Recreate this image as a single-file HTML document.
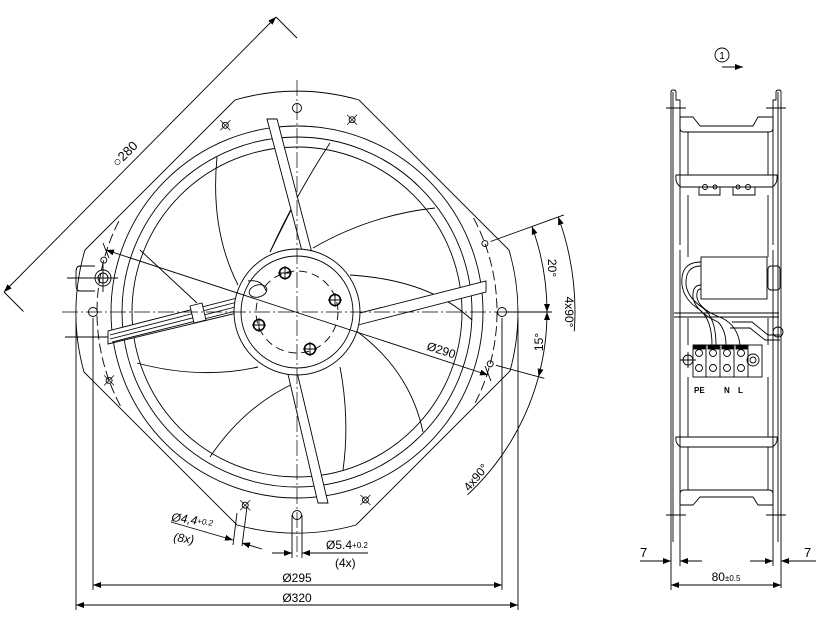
<!DOCTYPE html>
<html><head><meta charset="utf-8"><style>
html,body{margin:0;padding:0;background:#fff;width:816px;height:624px;overflow:hidden}
svg{display:block}
text{font-family:"Liberation Sans",sans-serif;fill:#000}
</style></head><body>
<svg width="816" height="624" viewBox="0 0 816 624" xmlns="http://www.w3.org/2000/svg">
<defs>
<marker id="a" viewBox="0 0 8 6" refX="8" refY="3" markerWidth="8" markerHeight="6" markerUnits="userSpaceOnUse" orient="auto-start-reverse"><path d="M0,0 L8,3 L0,6z" fill="#000"/></marker>
</defs>
<g fill="none" stroke="#000" stroke-width="0.9">
<!-- housing -->
<path d="M235,100 A221,221 0 0 1 359,100 L509,250 A221,221 0 0 1 510,371 L356,525 A221,221 0 0 1 237,525 L84,372 A221,221 0 0 1 85,250 Z"/>
<!-- 280 dim -->
<path d="M297,38 L276,17 M23.5,311.5 L4,292"/>
<path d="M4,292 L276,17" marker-start="url(#a)" marker-end="url(#a)"/>
<!-- blades -->
<path d="M217,157 Q210,230 238,285"/>
<path d="M330,143 Q296,195 270,252"/>
<path d="M292,208 L270,252"/>
<path d="M435,208 Q370,215 313,248"/>
<path d="M350,275 Q430,280 472,320"/>
<path d="M423,432 Q410,370 355,330"/>
<path d="M340,367 Q350,420 343,470"/>
<path d="M210,457 Q245,405 297,382"/>
<path d="M137,363 Q200,380 258,367"/>
<path d="M140,250 L197,303"/>
<!-- rings -->
<circle cx="297" cy="312" r="186"/>
<circle cx="297" cy="312" r="175"/>
<circle cx="297" cy="312" r="165"/>
<!-- dashed hole circle arcs -->
<path d="M473.6,218.1 A200,200 0 0 1 473.6,405.9" stroke-dasharray="10 4"/>
<path d="M120.4,405.9 A200,200 0 0 1 120.4,218.1" stroke-dasharray="10 4"/>
<!-- spokes -->
<g fill="#fff">
<polygon points="267,119 277,119 312,253 302,251"/>
<polygon points="486,281 486,292 358,325 356,314"/>
<polygon points="287,370 297,372 328,503 318,503"/>
<polygon points="108,331 108,344 237,313 245,296"/>
</g>
<!-- cable -->
<path d="M110,335 L249,299 M110,339 L251,303 M112,342 L240,310"/>
<polygon points="190,306 202,303 206,320 194,323" fill="#fff"/>
<!-- hub -->
<circle cx="297" cy="312" r="63" fill="#fff"/>
<circle cx="297" cy="312" r="56"/>
<circle cx="297" cy="312" r="41" stroke-dasharray="8 5"/>
<ellipse cx="258" cy="291" rx="9" ry="6" transform="rotate(-15 258 291)" fill="#fff"/>
<path d="M248,281 Q262,279 266,291"/>
<!-- screws -->
<g stroke-width="1.6">
<circle cx="285" cy="273" r="5.5"/><circle cx="335" cy="300" r="5.5"/><circle cx="259" cy="325" r="5.5"/><circle cx="310" cy="349" r="5.5"/>
</g>
<path d="M278,273h14M285,266v14 M328,300h14M335,293v14 M252,325h14M259,318v14 M303,349h14M310,342v14"/>
<!-- center lines -->
<path d="M62,312 H552 M297,80 V557" stroke-width="0.7" stroke-dasharray="16 3 2 3"/>
<!-- 4.4 holes -->
<g>
<circle cx="484.9" cy="243.6" r="3"/><circle cx="490.2" cy="363.8" r="3"/><circle cx="365.4" cy="499.9" r="3"/><circle cx="245.2" cy="505.2" r="3"/>
<circle cx="109.1" cy="380.4" r="3"/><circle cx="103.8" cy="260.2" r="3"/><circle cx="225.3" cy="125.3" r="3"/><circle cx="352.1" cy="119.7" r="3"/>
</g>
<path stroke-width="0.7" d="M360.4,494.9l10,10m0,-10l-10,10 M220.3,120.3l10,10m0,-10l-10,10 M347.1,114.7l10,10m0,-10l-10,10 M104.1,375.4l10,10m0,-10l-10,10 M240.2,500.2l10,10m0,-10l-10,10"/>
<!-- 5.4 holes -->
<circle cx="297" cy="108" r="4.5"/><circle cx="502" cy="312" r="4.5"/><circle cx="297" cy="515" r="4.5"/><circle cx="93" cy="312" r="4.5"/>
<!-- cable entry -->
<circle cx="103" cy="278" r="8"/><circle cx="103" cy="278" r="5"/>
<path d="M95,266 H80 Q76,266 76,272 V285 Q76,291 80,291 H95 M67,278 H118 M103,264 V292 M65,337 H108"/>
<!-- 290 dim -->
<path d="M106,250 L488,375" marker-start="url(#a)" marker-end="url(#a)"/>
<path d="M103,243 L109,258 M485,366 L491,381"/>
<!-- angle dims -->
<path d="M490.6,241.5 L563.9,214.9 M496,365.3 L544.3,378.3 M507,312 H552"/>
<path d="M547,312 A250,250 0 0 0 531.9,226.5" marker-start="url(#a)" marker-end="url(#a)"/>
<path d="M547,312 A250,250 0 0 1 538.5,376.7" marker-start="url(#a)" marker-end="url(#a)"/>
<path d="M574.3,331.4 A278,278 0 0 0 558.2,216.9" marker-end="url(#a)"/>
<path d="M538.5,376.7 A250,250 0 0 1 467.5,494.8"/>
<!-- bottom dims -->
<path d="M93,318 V590 M502,318 V590 M76,318 V610 M518,318 V610"/>
<path d="M93,585 H502" marker-start="url(#a)" marker-end="url(#a)"/>
<path d="M76,605 H518" marker-start="url(#a)" marker-end="url(#a)"/>
<path d="M292,515 V558 M302,515 V558"/>
<path d="M272,553 H292" marker-end="url(#a)"/>
<path d="M368,553 H302" marker-end="url(#a)"/>
<path d="M237,513 L233,545 M247,507 L242,546"/>
<path d="M171,522 L233,540" marker-end="url(#a)"/>
<path d="M262,549 L242,543" marker-end="url(#a)"/>

<!-- SIDE VIEW -->
<path d="M671,92 Q671,90 673,90 Q676,90 676,92 V100 L680,100 V245"/>
<path d="M671,92 V542 M673,92 V542"/>
<path d="M781,92 Q781,90 779,90 Q776,90 776,92 V100 L773,100 V245"/>
<path d="M781,92 V542 M778,92 V542"/>
<path d="M666,108 H686 M766,108 H786 M666,515 H686 M766,515 H786"/>
<path d="M680,117 H693 L700,126 H753 L758,117 H773 M680,117 V128 Q680,132 684,132 H769 Q773,132 773,128 V117"/>
<path d="M688,132 V175 M768,132 V175"/>
<path d="M676,175 H777 Q778,184 772,187 H681 Q675,184 676,175 Z"/>
<path d="M699,187 V195 H720 V187 M733,187 V195 H755 V187"/>
<circle cx="705" cy="187" r="2.5"/><circle cx="715" cy="187" r="2"/><circle cx="738" cy="187" r="2"/><circle cx="748" cy="187" r="2.5"/>
<path d="M688,195 V257 M768,195 V257 M680,250 V545 M773,250 V545"/>
<rect x="701" y="257" width="66" height="42"/>
<rect x="768" y="266" width="12" height="24" rx="3"/>
<path d="M701,262 Q680,262 682,285 Q684,300 700,310 Q712,320 712,345 M701,266 Q685,266 686,285 Q688,298 703,308 Q716,318 716,345 M701,285 Q692,285 693,298 Q696,312 718,322 Q726,330 726,345 M701,289 Q696,289 697,298 Q700,310 722,318 Q738,326 740,345"/>
<path d="M674,313 H779 M674,317 H779"/>
<path d="M688,318 V345 M768,318 V345"/>
<path d="M732,322 H752 L768,335 H780 M730,328 H750 L765,340 H780"/>
<circle cx="778" cy="332" r="5"/>
<rect x="693" y="345" width="69" height="32"/>
<g fill="#000"><rect x="694" y="345" width="11" height="4"/><rect x="708" y="345" width="11" height="4"/><rect x="722" y="345" width="11" height="4"/><rect x="736" y="345" width="11" height="4"/></g>
<path d="M706,345 V377 M720,345 V377 M734,345 V377 M748,345 V377"/>
<circle cx="699" cy="353" r="3.5"/><circle cx="713" cy="353" r="3.5"/><circle cx="727" cy="353" r="3.5"/><circle cx="741" cy="353" r="3.5"/>
<circle cx="699" cy="368" r="3.5"/><circle cx="713" cy="368" r="3.5"/><circle cx="727" cy="368" r="3.5"/><circle cx="741" cy="368" r="3.5"/>
<circle cx="753" cy="360" r="6"/><circle cx="753" cy="360" r="3"/>
<circle cx="688" cy="360" r="5"/><path d="M680,360 H696 M688,352 V368"/>
<path d="M688,377 V437 M768,377 V437"/>
<path d="M676,437 H777 Q778,444 772,447 H681 Q675,444 676,437 Z"/>
<path d="M688,447 V490 M768,447 V490"/>
<path d="M680,505 V494 Q680,490 684,490 H769 Q773,490 773,494 V505 M680,505 H693 L700,497 H753 L758,505 H773"/>
<path d="M671,542 V588 M781,542 V588 M680,545 V566 M773,545 V566 M671,580 V590"/>
<path d="M640,561 H671" marker-end="url(#a)"/>
<path d="M702,561 H680" marker-end="url(#a)"/>
<path d="M750,561 H773" marker-end="url(#a)"/>
<path d="M816,561 H781" marker-end="url(#a)"/>
<path d="M671,585 H781" marker-start="url(#a)" marker-end="url(#a)"/>
<circle cx="722" cy="55" r="7"/>
<path d="M722,67 H743" marker-end="url(#a)"/>
</g>
<!-- text -->
<text x="0" y="0" font-size="13" transform="translate(128,157) rotate(-45)" text-anchor="middle">○280</text>
<text x="0" y="0" font-size="12" transform="translate(440,354) rotate(18)" text-anchor="middle">Ø290</text>
<text x="0" y="0" font-size="12" transform="translate(548,268) rotate(90)" text-anchor="middle">20°</text>
<text x="0" y="0" font-size="12" transform="translate(565,312) rotate(90)" text-anchor="middle">4x90°</text>
<text x="0" y="0" font-size="12" transform="translate(543,342) rotate(-90)" text-anchor="middle">15°</text>
<text x="0" y="0" font-size="12" transform="translate(479,480) rotate(-50)" text-anchor="middle">4x90°</text>
<text x="297" y="582" font-size="12" text-anchor="middle">Ø295</text>
<text x="297" y="602" font-size="12" text-anchor="middle">Ø320</text>
<text x="0" y="0" font-size="12" font-style="italic" transform="translate(171,521) rotate(8)">Ø4,4<tspan font-size="8" dy="-1">+0.2</tspan></text>
<text x="0" y="0" font-size="12" font-style="italic" transform="translate(173,541) rotate(8)">(8x)</text>
<text x="326" y="549" font-size="12">Ø5.4<tspan font-size="8" dy="-1">+0.2</tspan></text>
<text x="335" y="567" font-size="12">(4x)</text>
<text x="722" y="59" font-size="10" text-anchor="middle">1</text>
<text x="694" y="393" font-size="8" font-weight="bold">PE</text>
<text x="724" y="393" font-size="8" font-weight="bold">N</text>
<text x="738" y="393" font-size="8" font-weight="bold">L</text>
<text x="640" y="557" font-size="13">7</text>
<text x="804" y="557" font-size="13">7</text>
<text x="726" y="581" font-size="12" text-anchor="middle">80<tspan font-size="8">±0.5</tspan></text>
</svg>
</body></html>
